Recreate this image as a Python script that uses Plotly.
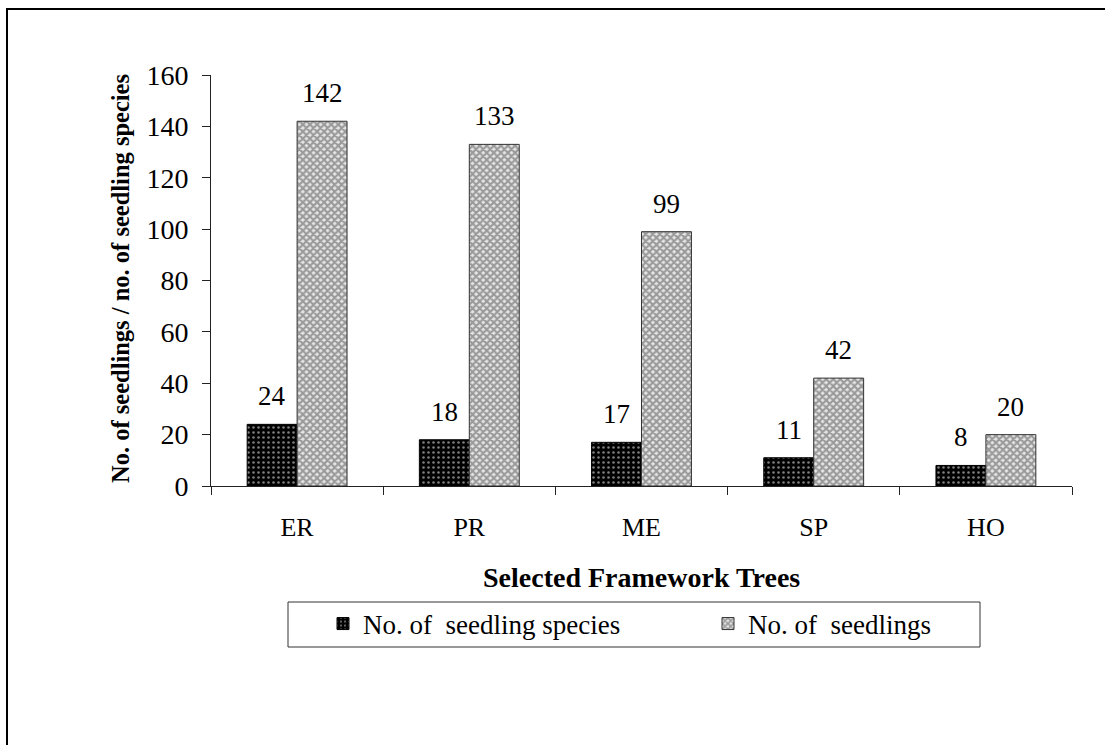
import plotly.graph_objects as go

# Framework tree codes and seedling counts
trees = ["ER", "PR", "ME", "SP", "HO"]
seedling_species = [24, 18, 17, 11, 8]
seedlings = [142, 133, 99, 42, 20]
y_ticks = [0, 20, 40, 60, 80, 100, 120, 140, 160]

W, H = 1105, 745
FONT = "Liberation Serif, Times New Roman, serif"


def px_x(v):
    return v / W


def px_y(v):
    return (H - v) / H


fig = go.Figure()

fig.add_trace(go.Bar(
    name="No. of  seedling species",
    x=trees, y=seedling_species,
    marker=dict(
        color="black",
        line=dict(color="black", width=1),
        pattern=dict(shape=".", bgcolor="black", fgcolor="white",
                     fillmode="overlay", size=5, solidity=0.2),
    ),
))

fig.add_trace(go.Bar(
    name="No. of  seedlings",
    x=trees, y=seedlings,
    marker=dict(
        color="white",
        line=dict(color="#333333", width=1),
        pattern=dict(shape="x", bgcolor="#e6e6e6", fgcolor="#4d4d4d",
                     fillmode="overlay", size=5, solidity=0.65),
    ),
))

# value labels above each bar
annotations = []
for series, shift in ((seedling_species, -25), (seedlings, 25)):
    for tree, val in zip(trees, series):
        annotations.append(dict(
            x=tree, y=val, xref="x", yref="y",
            text=str(val), showarrow=False,
            xshift=shift, yshift=11, yanchor="bottom",
            font=dict(family=FONT, size=27, color="black"),
        ))

# axis titles
annotations.append(dict(
    x=(px_x(211) + px_x(1072)) / 2, y=px_y(577), xref="paper", yref="paper",
    text="<b>Selected Framework Trees</b>", showarrow=False,
    xanchor="center", yanchor="middle",
    font=dict(family=FONT, size=28, color="black"),
))
annotations.append(dict(
    x=px_x(120), y=px_y(279), xref="paper", yref="paper",
    text="<b>No. of seedlings / no. of seedling species</b>", showarrow=False,
    textangle=-90, xanchor="center", yanchor="middle",
    font=dict(family=FONT, size=24.5, color="black"),
))

fig.update_layout(
    width=W, height=H,
    margin=dict(l=0, r=0, t=0, b=0),
    paper_bgcolor="white", plot_bgcolor="white",
    font=dict(family=FONT, color="black"),
    barmode="group",
    bargap=0.42,
    bargroupgap=0,
    showlegend=True,
    legend=dict(
        orientation="h",
        x=px_x(323), xanchor="left",
        y=px_y(624), yanchor="middle",
        font=dict(family=FONT, size=27, color="black"),
        entrywidth=340, entrywidthmode="pixels",
        bgcolor="rgba(0,0,0,0)",
        itemclick=False,
    ),
    xaxis=dict(
        domain=[px_x(211), px_x(1072)],
        type="category",
        automargin=False,
        showline=True, linecolor="#222222", linewidth=1,
        ticks="outside", tickson="boundaries", ticklen=8,
        tickcolor="#222222",
        tickfont=dict(family=FONT, size=26, color="black"),
        ticklabelstandoff=18,
        showgrid=False, zeroline=False,
    ),
    yaxis=dict(
        domain=[px_y(486), px_y(75)],
        range=[0, 160],
        tickvals=y_ticks,
        automargin=False,
        showline=True, linecolor="#222222", linewidth=1,
        ticks="outside", ticklen=8, tickcolor="#222222",
        tickfont=dict(family=FONT, size=28, color="black"),
        ticklabelstandoff=8,
        showgrid=False, zeroline=False,
    ),
    annotations=annotations,
    shapes=[
        # outer frame
        dict(type="rect", xref="paper", yref="paper",
             x0=px_x(7), x1=1.05, y0=-0.05, y1=px_y(9),
             line=dict(color="black", width=2), fillcolor="rgba(0,0,0,0)",
             layer="below"),
        # legend box
        dict(type="rect", xref="paper", yref="paper",
             x0=px_x(288), x1=px_x(980), y0=px_y(647), y1=px_y(602),
             line=dict(color="#333333", width=1), fillcolor="rgba(0,0,0,0)"),
    ],
)

fig.write_html("out.html")
